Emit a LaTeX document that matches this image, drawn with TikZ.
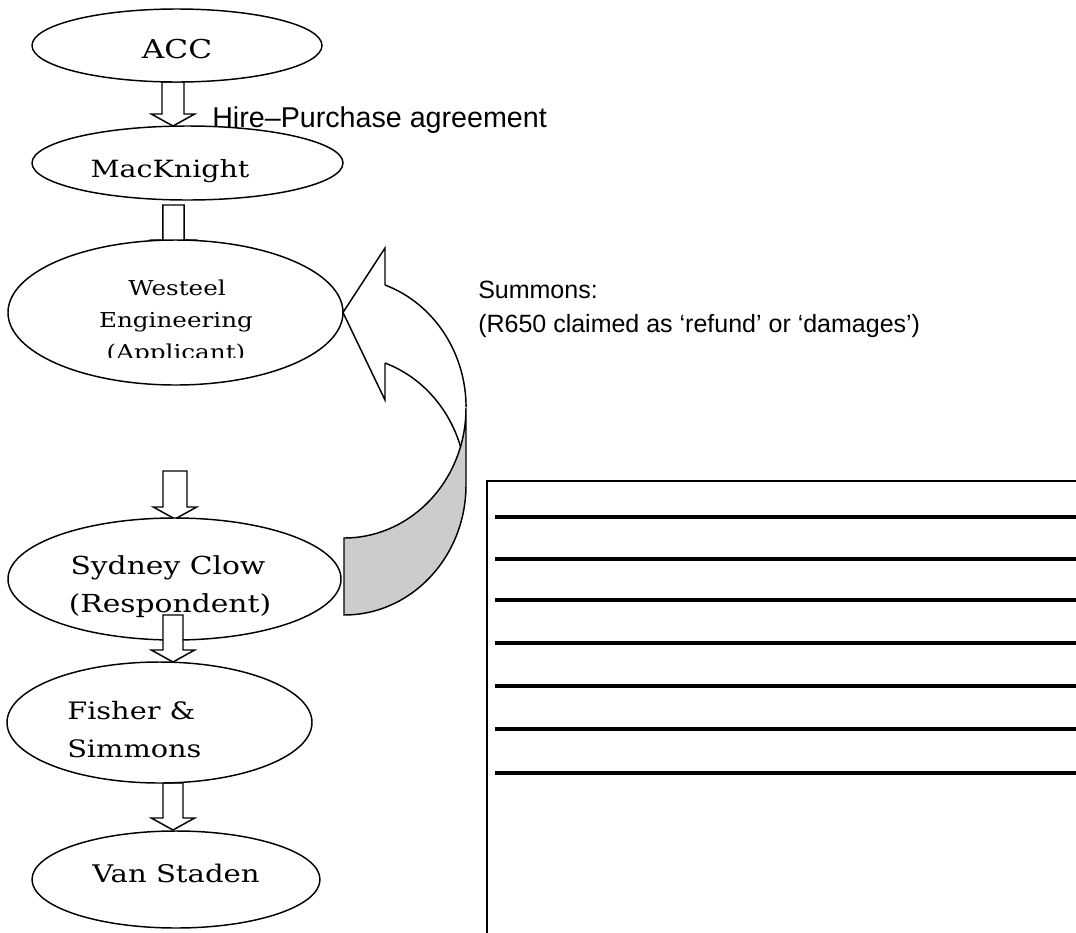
\documentclass[tikz,border=0pt]{standalone}
\usepackage{fontspec}
\setmainfont{DejaVu Serif}
\newfontfamily\slab[FakeStretch=1.2]{DejaVu Serif}
\newfontfamily\sansf{Liberation Sans}
\usetikzlibrary{shapes.geometric,calc}
\definecolor{shadegray}{HTML}{CCCCCC}
\tikzset{
  party/.style={ellipse, draw, line width=1.1pt, fill=white, inner sep=0pt, outer sep=0pt},
  ptext/.style={anchor=base, inner sep=0pt},
  ptextw/.style={anchor=base west, inner sep=0pt},
  stext/.style={anchor=base west, font=\sansf\fontsize{18.75}{22}\selectfont, inner sep=0pt},
  barrowline/.style={draw, line width=1.1pt, fill=white, line join=miter},
  curvedline/.style={draw, line width=1.1pt, line join=miter},
  rulestroke/.style={line width=3pt},
  boxline/.style={line width=1.5pt}
}
\newcommand{\fs}[1]{\slab\fontsize{#1}{22}\selectfont}
\newcommand{\blockarrow}[3]{%
  \path[barrowline] let \p1=(#1), \p2=(#2) in
    (\x1-#3,\y1) -- (\x1-#3,\y2+9pt) -- (\x1-16.3pt,\y2+9pt) -- (\x1,\y2)
    -- (\x1+16.3pt,\y2+9pt) -- (\x1+#3,\y2+9pt) -- (\x1+#3,\y1) -- cycle;}
\begin{document}
\begin{tikzpicture}[x=0.75pt,y=0.75pt]
\clip (0,0) rectangle (1076,-933);
\fill[white] (0,0) rectangle (1076,-933);

% arrow end points
\coordinate (a1s) at (173,-82);   \coordinate (a1e) at (173,-126);
\coordinate (a2s) at (173.5,-205); \coordinate (a2e) at (173.5,-252);
\coordinate (a3s) at (175,-471);  \coordinate (a3e) at (175,-519);
\coordinate (a4s) at (173,-615);  \coordinate (a4e) at (173,-662);
\coordinate (a5s) at (173,-783);  \coordinate (a5e) at (173,-830);

\blockarrow{a1s}{a1e}{8.25pt}
\blockarrow{a2s}{a2e}{8pt}
\blockarrow{a3s}{a3e}{9pt}
\blockarrow{a5s}{a5e}{7.5pt}

% parties
\node[party, minimum width=217.5pt, minimum height=54.75pt] (acc) at (177,-45.5) {};
\node[party, minimum width=233.25pt, minimum height=55.5pt] (mac) at (187.5,-163) {};
\node[party, minimum width=251.25pt, minimum height=108.75pt] (west) at (175.5,-312.5) {};
\node[party, minimum width=249.75pt, minimum height=91.5pt] (syd) at (174.5,-579) {};
\node[party, minimum width=228.75pt, minimum height=90.75pt] (fish) at (159.5,-722.5) {};
\node[party, minimum width=216pt, minimum height=72.75pt] (van) at (176,-879.5) {};

\node[ptext, font=\fs{19.5}] (tacc) at (177,-58) {ACC};
\node[ptext, font=\fs{17.8}] (tmac) at (170,-177) {MacKnight};
\node[ptext, font=\fs{15.4}] (tw1) at (177,-295) {Westeel};
\node[ptext, font=\fs{15.4}] (tw2) at (176,-327) {Engineering};
\begin{scope}
  \clip (80,-330) rectangle (280,-357);
  \node[ptext, font=\fs{15.4}] (tw3) at (176,-359) {(Applicant)};
\end{scope}
\node[ptext, font=\fs{18.6}] (ts1) at (168,-574) {Sydney Clow};
\node[ptext, font=\fs{18.6}] (ts2) at (170,-612) {(Respondent)};
\node[ptextw, font=\fs{18}] (tf1) at (67,-719) {Fisher \&};
\node[ptextw, font=\fs{18}] (tf2) at (67,-757) {Simmons};
\node[ptext, font=\fs{18.2}] (tv) at (176,-882) {Van Staden};

\blockarrow{a4s}{a4e}{7.5pt}

% labels
\node[stext, font=\sansf\fontsize{21.5}{24}\selectfont] (hire) at (212,-127) {Hire–Purchase agreement};
\node[stext] (sum1) at (478,-298) {Summons:};
\node[stext] (sum2) at (478,-332) {(R650 claimed as ‘refund’ or ‘damages’)};

% curved arrow (summons from respondent back to applicant)
\path[fill=shadegray, curvedline] (466,-408) -- (466,-485)
  arc[start angle=0, end angle=-90, x radius=122, y radius=130] -- (344,-538)
  arc[start angle=-90, end angle=0, x radius=122, y radius=130] -- cycle;
\path[curvedline] (385,-285) arc[start angle=70.4, end angle=0, x radius=122, y radius=130];
\path[curvedline] (385,-363) arc[start angle=70.4, end angle=17.2, x radius=122, y radius=130];
\path[curvedline] (385,-363) -- (385,-400) -- (west.east) -- (385,-248) -- (385,-285);

% ruled box
\draw[boxline] (486.5,-940) -- (486.5,-481) -- (1090,-481);
\foreach \yy in {517,559,600,643,686,729,773}
  \draw[rulestroke] (495,-\yy) -- (1090,-\yy);
\end{tikzpicture}
\end{document}
